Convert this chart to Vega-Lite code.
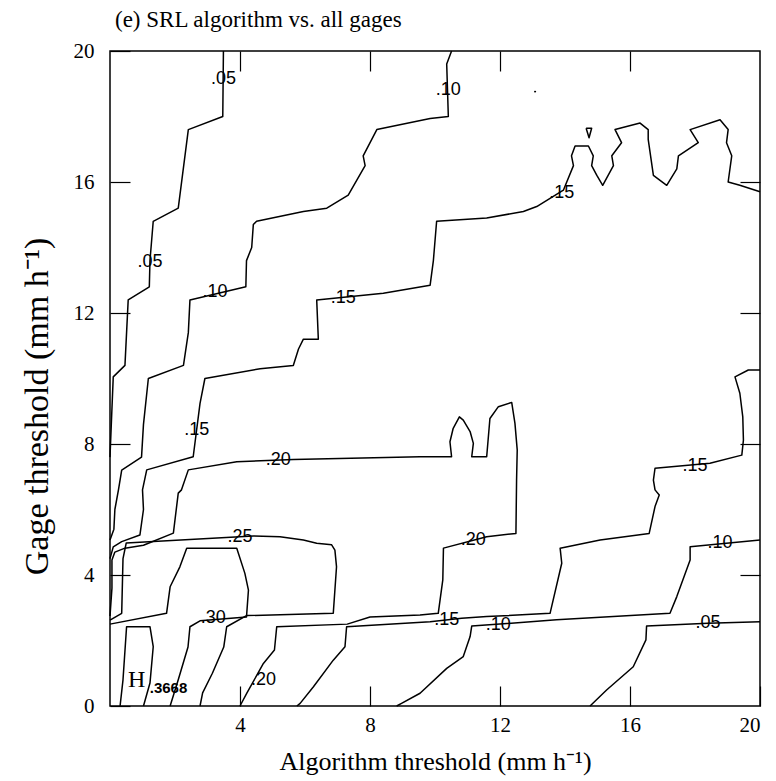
{
  "$schema": "https://vega.github.io/schema/vega-lite/v6.json",
  "width": 650,
  "height": 655,
  "autosize": "none",
  "padding": {"left": 110, "top": 51, "right": 16, "bottom": 75},
  "config": {
    "view": {"stroke": "black", "strokeWidth": 1.5},
    "font": "Liberation Serif",
    "axis": {
      "grid": false,
      "domain": false,
      "tickColor": "black",
      "tickWidth": 1.2,
      "tickSize": -20,
      "labelFont": "Liberation Serif",
      "labelFontSize": 21,
      "labelColor": "black",
      "titleFont": "Liberation Serif",
      "titleFontWeight": "normal",
      "titleColor": "black"
    }
  },
  "title": {
    "text": "(e) SRL algorithm vs. all gages",
    "anchor": "start",
    "frame": "group",
    "dx": 5,
    "offset": 8,
    "font": "Liberation Serif",
    "fontSize": 23,
    "fontWeight": "normal",
    "color": "black"
  },
  "datasets": {
    "contours": [
      {"c": "a", "i": 0, "x": 3.49, "y": 20},
      {"c": "a", "i": 1, "x": 3.47, "y": 18.0},
      {"c": "a", "i": 2, "x": 2.41, "y": 17.6},
      {"c": "a", "i": 3, "x": 2.1, "y": 15.2},
      {"c": "a", "i": 4, "x": 1.33, "y": 14.8},
      {"c": "a", "i": 5, "x": 1.23, "y": 13.6},
      {"c": "a", "i": 6, "x": 1.21, "y": 12.8},
      {"c": "a", "i": 7, "x": 0.56, "y": 12.4},
      {"c": "a", "i": 8, "x": 0.46, "y": 10.4},
      {"c": "a", "i": 9, "x": 0.1, "y": 10.05},
      {"c": "a", "i": 10, "x": 0.04, "y": 8.6},
      {"c": "a", "i": 11, "x": 0, "y": 7.6},

      {"c": "b", "i": 0, "x": 10.51, "y": 20},
      {"c": "b", "i": 1, "x": 10.36, "y": 19.6},
      {"c": "b", "i": 2, "x": 10.41, "y": 18.0},
      {"c": "b", "i": 3, "x": 9.85, "y": 17.94},
      {"c": "b", "i": 4, "x": 8.21, "y": 17.6},
      {"c": "b", "i": 5, "x": 7.79, "y": 16.8},
      {"c": "b", "i": 6, "x": 7.85, "y": 16.5},
      {"c": "b", "i": 7, "x": 7.33, "y": 15.6},
      {"c": "b", "i": 8, "x": 6.67, "y": 15.2},
      {"c": "b", "i": 9, "x": 5.95, "y": 15.1},
      {"c": "b", "i": 10, "x": 4.51, "y": 14.8},
      {"c": "b", "i": 11, "x": 4.41, "y": 14.7},
      {"c": "b", "i": 12, "x": 4.36, "y": 14.0},
      {"c": "b", "i": 13, "x": 4.2, "y": 13.6},
      {"c": "b", "i": 14, "x": 4.18, "y": 12.8},
      {"c": "b", "i": 15, "x": 2.46, "y": 12.4},
      {"c": "b", "i": 16, "x": 2.41, "y": 11.4},
      {"c": "b", "i": 17, "x": 2.26, "y": 10.4},
      {"c": "b", "i": 18, "x": 1.18, "y": 10.0},
      {"c": "b", "i": 19, "x": 1.03, "y": 8.6},
      {"c": "b", "i": 20, "x": 0.97, "y": 7.6},
      {"c": "b", "i": 21, "x": 0.36, "y": 7.2},
      {"c": "b", "i": 22, "x": 0.26, "y": 6.6},
      {"c": "b", "i": 23, "x": 0.15, "y": 6.0},
      {"c": "b", "i": 24, "x": 0.12, "y": 5.4},
      {"c": "b", "i": 25, "x": 0, "y": 5.07},

      {"c": "c", "i": 0, "x": 20, "y": 15.7},
      {"c": "c", "i": 1, "x": 19.38, "y": 15.9},
      {"c": "c", "i": 2, "x": 19.02, "y": 16.0},
      {"c": "c", "i": 3, "x": 19.13, "y": 16.8},
      {"c": "c", "i": 4, "x": 18.97, "y": 17.2},
      {"c": "c", "i": 5, "x": 19.02, "y": 17.6},
      {"c": "c", "i": 6, "x": 18.77, "y": 17.9},
      {"c": "c", "i": 7, "x": 17.85, "y": 17.6},
      {"c": "c", "i": 8, "x": 18.1, "y": 17.2},
      {"c": "c", "i": 9, "x": 17.49, "y": 16.8},
      {"c": "c", "i": 10, "x": 17.44, "y": 16.4},
      {"c": "c", "i": 11, "x": 17.13, "y": 15.9},
      {"c": "c", "i": 12, "x": 16.72, "y": 16.2},
      {"c": "c", "i": 13, "x": 16.56, "y": 17.3},
      {"c": "c", "i": 14, "x": 16.56, "y": 17.6},
      {"c": "c", "i": 15, "x": 16.31, "y": 17.8},
      {"c": "c", "i": 16, "x": 15.54, "y": 17.6},
      {"c": "c", "i": 17, "x": 15.74, "y": 17.2},
      {"c": "c", "i": 18, "x": 15.44, "y": 16.8},
      {"c": "c", "i": 19, "x": 15.49, "y": 16.5},
      {"c": "c", "i": 20, "x": 15.16, "y": 15.9},
      {"c": "c", "i": 21, "x": 14.98, "y": 16.2},
      {"c": "c", "i": 22, "x": 14.82, "y": 16.5},
      {"c": "c", "i": 23, "x": 14.87, "y": 16.8},
      {"c": "c", "i": 24, "x": 14.72, "y": 17.1},
      {"c": "c", "i": 25, "x": 14.31, "y": 17.1},
      {"c": "c", "i": 26, "x": 14.2, "y": 16.8},
      {"c": "c", "i": 27, "x": 14.26, "y": 16.5},
      {"c": "c", "i": 28, "x": 13.95, "y": 15.75},
      {"c": "c", "i": 29, "x": 13.13, "y": 15.25},
      {"c": "c", "i": 30, "x": 12.72, "y": 15.1},
      {"c": "c", "i": 31, "x": 11.59, "y": 14.9},
      {"c": "c", "i": 32, "x": 10.05, "y": 14.8},
      {"c": "c", "i": 33, "x": 9.95, "y": 13.6},
      {"c": "c", "i": 34, "x": 9.85, "y": 12.85},
      {"c": "c", "i": 35, "x": 8.41, "y": 12.6},
      {"c": "c", "i": 36, "x": 6.36, "y": 12.4},
      {"c": "c", "i": 37, "x": 6.41, "y": 11.2},
      {"c": "c", "i": 38, "x": 5.95, "y": 11.2},
      {"c": "c", "i": 39, "x": 5.8, "y": 10.9},
      {"c": "c", "i": 40, "x": 5.64, "y": 10.4},
      {"c": "c", "i": 41, "x": 4.62, "y": 10.3},
      {"c": "c", "i": 42, "x": 2.92, "y": 10.0},
      {"c": "c", "i": 43, "x": 2.77, "y": 9.24},
      {"c": "c", "i": 44, "x": 2.56, "y": 7.61},
      {"c": "c", "i": 45, "x": 1.13, "y": 7.21},
      {"c": "c", "i": 46, "x": 1.0, "y": 6.6},
      {"c": "c", "i": 47, "x": 1.03, "y": 6.0},
      {"c": "c", "i": 48, "x": 0.92, "y": 5.22},
      {"c": "c", "i": 49, "x": 0.36, "y": 5.02},
      {"c": "c", "i": 50, "x": 0.1, "y": 4.86},
      {"c": "c", "i": 51, "x": 0, "y": 4.5},

      {"c": "d", "i": 0, "x": 14.65, "y": 17.64},
      {"c": "d", "i": 1, "x": 14.82, "y": 17.64},
      {"c": "d", "i": 2, "x": 14.74, "y": 17.35},
      {"c": "d", "i": 3, "x": 14.65, "y": 17.64},

      {"c": "dot", "i": 0, "x": 13.05, "y": 18.76},
      {"c": "dot", "i": 1, "x": 13.11, "y": 18.76},

      {"c": "e", "i": 0, "x": 0, "y": 2.75},
      {"c": "e", "i": 1, "x": 0.06, "y": 3.6},
      {"c": "e", "i": 2, "x": 0.06, "y": 4.46},
      {"c": "e", "i": 3, "x": 0.15, "y": 4.7},
      {"c": "e", "i": 4, "x": 0.46, "y": 4.82},
      {"c": "e", "i": 5, "x": 1.03, "y": 4.91},
      {"c": "e", "i": 6, "x": 1.95, "y": 5.28},
      {"c": "e", "i": 7, "x": 2.1, "y": 6.5},
      {"c": "e", "i": 8, "x": 2.2, "y": 6.6},
      {"c": "e", "i": 9, "x": 2.41, "y": 7.21},
      {"c": "e", "i": 10, "x": 3.9, "y": 7.46},
      {"c": "e", "i": 11, "x": 5.64, "y": 7.53},
      {"c": "e", "i": 12, "x": 9.54, "y": 7.61},
      {"c": "e", "i": 13, "x": 10.51, "y": 7.61},
      {"c": "e", "i": 14, "x": 10.46, "y": 8.07},
      {"c": "e", "i": 15, "x": 10.56, "y": 8.48},
      {"c": "e", "i": 16, "x": 10.75, "y": 8.83},
      {"c": "e", "i": 17, "x": 10.87, "y": 8.73},
      {"c": "e", "i": 18, "x": 11.08, "y": 8.38},
      {"c": "e", "i": 19, "x": 11.18, "y": 8.02},
      {"c": "e", "i": 20, "x": 11.13, "y": 7.61},
      {"c": "e", "i": 21, "x": 11.59, "y": 7.61},
      {"c": "e", "i": 22, "x": 11.69, "y": 8.78},
      {"c": "e", "i": 23, "x": 11.95, "y": 9.14},
      {"c": "e", "i": 24, "x": 12.36, "y": 9.27},
      {"c": "e", "i": 25, "x": 12.46, "y": 8.63},
      {"c": "e", "i": 26, "x": 12.53, "y": 7.82},
      {"c": "e", "i": 27, "x": 12.51, "y": 6.9},
      {"c": "e", "i": 28, "x": 12.49, "y": 5.27},
      {"c": "e", "i": 29, "x": 11.59, "y": 5.17},
      {"c": "e", "i": 30, "x": 10.26, "y": 4.82},
      {"c": "e", "i": 31, "x": 10.24, "y": 3.85},
      {"c": "e", "i": 32, "x": 10.1, "y": 2.83},
      {"c": "e", "i": 33, "x": 9.54, "y": 2.78},
      {"c": "e", "i": 34, "x": 8.0, "y": 2.72},
      {"c": "e", "i": 35, "x": 7.3, "y": 2.5},
      {"c": "e", "i": 36, "x": 5.13, "y": 2.42},
      {"c": "e", "i": 37, "x": 5.06, "y": 1.71},
      {"c": "e", "i": 38, "x": 4.72, "y": 1.3},
      {"c": "e", "i": 39, "x": 4.21, "y": 0.39},
      {"c": "e", "i": 40, "x": 4.0, "y": 0},

      {"c": "f", "i": 0, "x": 20, "y": 10.26},
      {"c": "f", "i": 1, "x": 19.64, "y": 10.26},
      {"c": "f", "i": 2, "x": 19.23, "y": 10.05},
      {"c": "f", "i": 3, "x": 19.38, "y": 9.55},
      {"c": "f", "i": 4, "x": 19.47, "y": 8.83},
      {"c": "f", "i": 5, "x": 19.49, "y": 8.12},
      {"c": "f", "i": 6, "x": 19.44, "y": 7.66},
      {"c": "f", "i": 7, "x": 18.46, "y": 7.41},
      {"c": "f", "i": 8, "x": 16.77, "y": 7.26},
      {"c": "f", "i": 9, "x": 16.72, "y": 6.9},
      {"c": "f", "i": 10, "x": 16.77, "y": 6.6},
      {"c": "f", "i": 11, "x": 16.9, "y": 6.44},
      {"c": "f", "i": 12, "x": 16.77, "y": 6.09},
      {"c": "f", "i": 13, "x": 16.59, "y": 5.27},
      {"c": "f", "i": 14, "x": 15.08, "y": 5.07},
      {"c": "f", "i": 15, "x": 13.85, "y": 4.82},
      {"c": "f", "i": 16, "x": 13.9, "y": 4.36},
      {"c": "f", "i": 17, "x": 13.54, "y": 2.83},
      {"c": "f", "i": 18, "x": 11.59, "y": 2.73},
      {"c": "f", "i": 19, "x": 10.82, "y": 2.68},
      {"c": "f", "i": 20, "x": 9.85, "y": 2.57},
      {"c": "f", "i": 21, "x": 7.28, "y": 2.42},
      {"c": "f", "i": 22, "x": 7.23, "y": 1.81},
      {"c": "f", "i": 23, "x": 6.87, "y": 1.4},
      {"c": "f", "i": 24, "x": 6.26, "y": 0.59},
      {"c": "f", "i": 25, "x": 5.85, "y": 0.08},
      {"c": "f", "i": 26, "x": 5.75, "y": 0},

      {"c": "g", "i": 0, "x": 20, "y": 5.07},
      {"c": "g", "i": 1, "x": 17.85, "y": 4.86},
      {"c": "g", "i": 2, "x": 17.85, "y": 4.46},
      {"c": "g", "i": 3, "x": 17.44, "y": 3.34},
      {"c": "g", "i": 4, "x": 17.23, "y": 2.83},
      {"c": "g", "i": 5, "x": 13.74, "y": 2.63},
      {"c": "g", "i": 6, "x": 12.21, "y": 2.52},
      {"c": "g", "i": 7, "x": 11.13, "y": 2.44},
      {"c": "g", "i": 8, "x": 11.08, "y": 2.12},
      {"c": "g", "i": 9, "x": 10.87, "y": 1.51},
      {"c": "g", "i": 10, "x": 10.36, "y": 1.15},
      {"c": "g", "i": 11, "x": 9.54, "y": 0.39},
      {"c": "g", "i": 12, "x": 8.97, "y": 0.08},
      {"c": "g", "i": 13, "x": 8.82, "y": 0},

      {"c": "h", "i": 0, "x": 20, "y": 2.57},
      {"c": "h", "i": 1, "x": 18.4, "y": 2.53},
      {"c": "h", "i": 2, "x": 16.51, "y": 2.44},
      {"c": "h", "i": 3, "x": 16.49, "y": 2.02},
      {"c": "h", "i": 4, "x": 16.1, "y": 1.2},
      {"c": "h", "i": 5, "x": 15.28, "y": 0.49},
      {"c": "h", "i": 6, "x": 14.77, "y": 0},

      {"c": "j", "i": 0, "x": 0, "y": 2.62},
      {"c": "j", "i": 1, "x": 0.36, "y": 2.83},
      {"c": "j", "i": 2, "x": 0.4, "y": 4.5},
      {"c": "j", "i": 3, "x": 0.5, "y": 4.98},
      {"c": "j", "i": 4, "x": 4.41, "y": 5.19},
      {"c": "j", "i": 5, "x": 5.23, "y": 5.17},
      {"c": "j", "i": 6, "x": 5.95, "y": 5.07},
      {"c": "j", "i": 7, "x": 6.36, "y": 4.97},
      {"c": "j", "i": 8, "x": 6.82, "y": 4.92},
      {"c": "j", "i": 9, "x": 6.92, "y": 4.76},
      {"c": "j", "i": 10, "x": 6.97, "y": 4.25},
      {"c": "j", "i": 11, "x": 6.87, "y": 2.83},
      {"c": "j", "i": 12, "x": 4.2, "y": 2.76},
      {"c": "j", "i": 13, "x": 3.59, "y": 2.42},
      {"c": "j", "i": 14, "x": 3.5, "y": 1.8},
      {"c": "j", "i": 15, "x": 3.15, "y": 1.0},
      {"c": "j", "i": 16, "x": 2.85, "y": 0.4},
      {"c": "j", "i": 17, "x": 2.77, "y": 0},

      {"c": "k", "i": 0, "x": 0, "y": 2.5},
      {"c": "k", "i": 1, "x": 1.74, "y": 2.83},
      {"c": "k", "i": 2, "x": 1.85, "y": 3.64},
      {"c": "k", "i": 3, "x": 2.15, "y": 4.25},
      {"c": "k", "i": 4, "x": 2.36, "y": 4.82},
      {"c": "k", "i": 5, "x": 3.9, "y": 4.82},
      {"c": "k", "i": 6, "x": 4.15, "y": 4.05},
      {"c": "k", "i": 7, "x": 4.26, "y": 3.54},
      {"c": "k", "i": 8, "x": 4.2, "y": 2.72},
      {"c": "k", "i": 9, "x": 2.77, "y": 2.6},
      {"c": "k", "i": 10, "x": 2.46, "y": 2.42},
      {"c": "k", "i": 11, "x": 2.4, "y": 1.8},
      {"c": "k", "i": 12, "x": 2.1, "y": 0.8},
      {"c": "k", "i": 13, "x": 1.85, "y": 0},

      {"c": "m", "i": 0, "x": 0.31, "y": 0},
      {"c": "m", "i": 1, "x": 0.4, "y": 0.8},
      {"c": "m", "i": 2, "x": 0.51, "y": 2.42},
      {"c": "m", "i": 3, "x": 1.23, "y": 2.42},
      {"c": "m", "i": 4, "x": 1.33, "y": 1.81},
      {"c": "m", "i": 5, "x": 1.23, "y": 0.7},
      {"c": "m", "i": 6, "x": 1.03, "y": 0}
    ],
    "labels": [
      {"t": ".05", "x": 3.49, "y": 19.14},
      {"t": ".10", "x": 10.41, "y": 18.8},
      {"t": ".15", "x": 13.9, "y": 15.65},
      {"t": ".05", "x": 1.23, "y": 13.57},
      {"t": ".10", "x": 3.23, "y": 12.65},
      {"t": ".15", "x": 7.18, "y": 12.45},
      {"t": ".15", "x": 2.67, "y": 8.43},
      {"t": ".20", "x": 5.18, "y": 7.51},
      {"t": ".25", "x": 4.0, "y": 5.17},
      {"t": ".30", "x": 3.18, "y": 2.68},
      {"t": ".20", "x": 4.72, "y": 0.79},
      {"t": ".20", "x": 11.18, "y": 5.07},
      {"t": ".15", "x": 10.36, "y": 2.63},
      {"t": ".10", "x": 11.95, "y": 2.47},
      {"t": ".15", "x": 18.0, "y": 7.33},
      {"t": ".10", "x": 18.77, "y": 4.97},
      {"t": ".05", "x": 18.4, "y": 2.53}
    ],
    "peak": [
      {"t": "H", "sub": ".3668", "x": 0.82, "y": 0.79, "xs": 1.8, "ys": 0.54}
    ]
  },
  "resolve": {"axis": {"x": "independent", "y": "independent"}},
  "layer": [
    {
      "data": {"name": "contours"},
      "mark": {"type": "line", "color": "black", "strokeWidth": 1.5, "strokeJoin": "round"},
      "encoding": {
        "x": {
          "field": "x", "type": "quantitative",
          "scale": {"domain": [0, 20], "nice": false, "zero": false},
          "axis": {"orient": "bottom", "values": [4, 8, 12, 16, 20], "labelPadding": 28, "title": "Algorithm threshold (mm h⁻¹)", "titleFontSize": 26, "titlePadding": 13}
        },
        "y": {
          "field": "y", "type": "quantitative",
          "scale": {"domain": [0, 20], "nice": false, "zero": false},
          "axis": {"orient": "left", "values": [0, 4, 8, 12, 16, 20], "labelPadding": 36, "title": "Gage threshold (mm h⁻¹)", "titleFontSize": 34, "titlePadding": 19, "titleY": 355}
        },
        "detail": {"field": "c"},
        "order": {"field": "i", "type": "quantitative"}
      }
    },
    {
      "data": {"name": "labels"},
      "mark": {"type": "text", "font": "Liberation Sans", "fontSize": 18, "color": "black", "align": "center", "baseline": "middle"},
      "encoding": {
        "x": {
          "field": "x", "type": "quantitative",
          "scale": {"domain": [0, 20], "nice": false, "zero": false},
          "axis": {"orient": "top", "values": [4, 8, 12, 16], "labels": false, "title": null}
        },
        "y": {
          "field": "y", "type": "quantitative",
          "scale": {"domain": [0, 20], "nice": false, "zero": false},
          "axis": {"orient": "right", "values": [4, 8, 12, 16], "labels": false, "title": null}
        },
        "text": {"field": "t"}
      }
    },
    {
      "data": {"name": "peak"},
      "mark": {"type": "text", "font": "Liberation Serif", "fontSize": 24, "color": "black", "align": "center", "baseline": "middle"},
      "encoding": {
        "x": {"field": "x", "type": "quantitative", "axis": null},
        "y": {"field": "y", "type": "quantitative", "axis": null},
        "text": {"field": "t"}
      }
    },
    {
      "data": {"name": "peak"},
      "mark": {"type": "text", "font": "Liberation Sans", "fontSize": 15, "fontWeight": "bold", "color": "black", "align": "center", "baseline": "middle"},
      "encoding": {
        "x": {"field": "xs", "type": "quantitative", "axis": null},
        "y": {"field": "ys", "type": "quantitative", "axis": null},
        "text": {"field": "sub"}
      }
    }
  ]
}
